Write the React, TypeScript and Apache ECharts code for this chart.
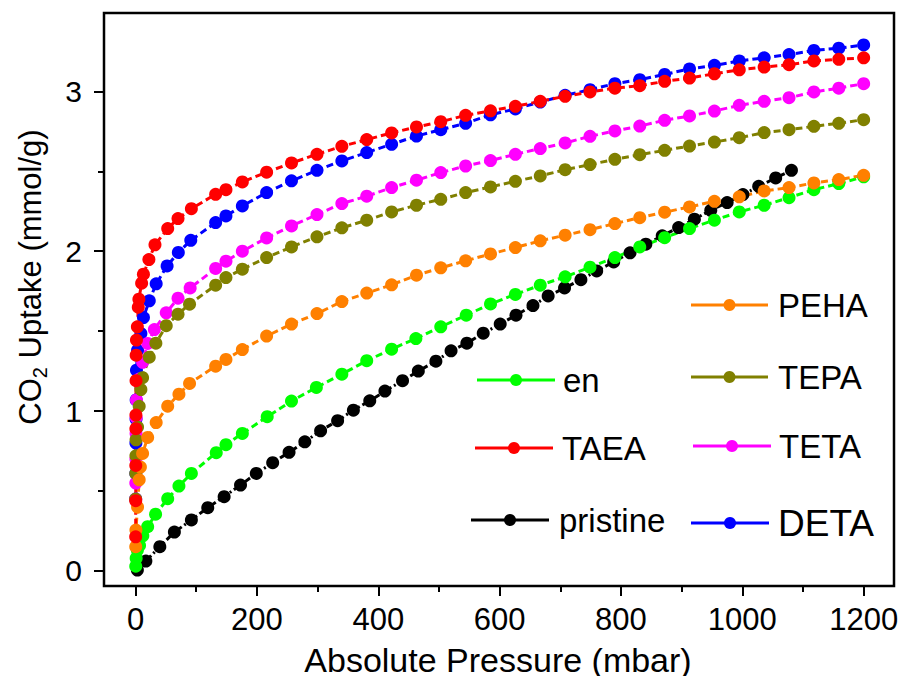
import React, { useEffect, useRef } from "react";
import * as echarts from "echarts";

const FONT = "'Liberation Sans', Arial, sans-serif";

const X_MAJOR_TICKS = [0, 200, 400, 600, 800, 1000, 1200];
const X_MINOR_TICKS = [100, 300, 500, 700, 900, 1100];
const Y_MAJOR_TICKS = [0, 1, 2, 3];
const Y_MINOR_TICKS = [0.5, 1.5, 2.5];

const X_TITLE = "Absolute Pressure (mbar)";

const pristine: number[][] = [
  [3, 0.006], [17, 0.062], [40, 0.152], [64, 0.243], [92, 0.319], [119, 0.396], [146, 0.465],
  [173, 0.5375], [199, 0.61], [226, 0.677], [253, 0.742], [279, 0.808], [305, 0.877], [333, 0.94],
  [359, 1.006], [386, 1.064], [411, 1.125], [440, 1.19], [466, 1.25], [495, 1.3125], [520, 1.377],
  [546, 1.425], [573, 1.487], [601, 1.544], [627, 1.6], [655, 1.66], [680, 1.72], [707, 1.77],
  [734, 1.822], [760, 1.877], [788, 1.933], [815, 1.99], [841, 2.044], [868, 2.096], [895, 2.148],
  [921, 2.2], [948, 2.256], [975, 2.304], [1001, 2.354], [1027, 2.406], [1055, 2.458], [1081, 2.506],
];

const en: number[][] = [
  [0.3, 0.03], [1, 0.08], [3, 0.13], [6.6, 0.16], [12, 0.22], [20, 0.277], [33, 0.355], [53, 0.452],
  [71.5, 0.531], [92, 0.61], [133, 0.74], [149, 0.79], [176, 0.86], [217, 0.965], [257, 1.0625],
  [298, 1.148], [340, 1.231], [381, 1.315], [422, 1.3875], [462, 1.454], [503, 1.527], [545, 1.6],
  [585, 1.67], [626, 1.73], [667, 1.7875], [708, 1.84], [749, 1.9], [790, 1.96], [831, 2.027],
  [872, 2.085], [913, 2.142], [954, 2.194], [995, 2.246], [1036, 2.2875], [1077, 2.335],
  [1118, 2.385], [1159, 2.423], [1200, 2.465],
];

const DETA: number[][] = [
  [0.2, 0.45], [0.4, 0.61], [0.6, 0.8], [0.8, 0.95], [1, 1.07], [1.5, 1.256], [3.3, 1.38],
  [8.8, 1.485], [13, 1.585], [22.6, 1.69], [34, 1.796], [52, 1.908], [70.5, 1.992], [91, 2.068],
  [132, 2.179], [149, 2.221], [176, 2.283], [216, 2.367], [257, 2.44], [299, 2.506], [340, 2.565],
  [381, 2.617], [422, 2.669], [463, 2.72], [503, 2.76], [544, 2.8], [585, 2.853], [626, 2.89],
  [667, 2.933], [708, 2.975], [749, 3.01], [790, 3.048], [831, 3.073], [872, 3.106], [913, 3.14],
  [954, 3.1625], [995, 3.19], [1036, 3.21], [1077, 3.23], [1118, 3.256], [1159, 3.27], [1200, 3.29],
];

const TETA: number[][] = [
  [0.2, 0.45], [0.4, 0.55], [0.6, 0.7], [0.8, 0.86], [1, 0.96], [1.5, 1.07], [6, 1.2], [11.6, 1.305],
  [20, 1.423], [31, 1.51], [50.6, 1.615], [70, 1.706], [90, 1.77], [132, 1.892], [149, 1.9375],
  [176, 2.0], [216, 2.083], [257, 2.158], [299, 2.229], [340, 2.298], [381, 2.344], [422, 2.398],
  [463, 2.444], [503, 2.492], [544, 2.533], [585, 2.567], [626, 2.606], [667, 2.642], [708, 2.677],
  [749, 2.719], [790, 2.752], [831, 2.783], [872, 2.819], [913, 2.846], [954, 2.877], [995, 2.9125],
  [1036, 2.9375], [1077, 2.96], [1118, 2.996], [1159, 3.02], [1200, 3.048],
];

const TEPA: number[][] = [
  [0.2, 0.45], [0.4, 0.61], [0.6, 0.72], [0.8, 0.82], [3.3, 0.9], [6, 1.03], [8.8, 1.135],
  [11.6, 1.209], [22.6, 1.337], [33.5, 1.425], [50.6, 1.534], [70, 1.606], [89, 1.669],
  [132, 1.7875], [149, 1.835], [176, 1.8875], [216, 1.96], [257, 2.027], [299, 2.09], [340, 2.146],
  [381, 2.194], [422, 2.246], [463, 2.2875], [503, 2.325], [544, 2.367], [585, 2.402], [626, 2.4375],
  [667, 2.471], [708, 2.51], [749, 2.542], [790, 2.575], [831, 2.604], [872, 2.631], [913, 2.658],
  [954, 2.683], [995, 2.71], [1036, 2.742], [1077, 2.76], [1118, 2.781], [1159, 2.8], [1200, 2.823],
];

const PEHA: number[][] = [
  [0.3, 0.152], [0.6, 0.256], [3.3, 0.4], [6, 0.57], [8, 0.65], [11.6, 0.735], [20, 0.835],
  [34, 0.928], [53, 1.031], [71.5, 1.106], [89, 1.173], [132, 1.281], [149, 1.323], [176, 1.385],
  [216, 1.469], [257, 1.544], [299, 1.61], [340, 1.685], [381, 1.738], [422, 1.79], [463, 1.85],
  [503, 1.896], [544, 1.94], [585, 1.983], [626, 2.023], [667, 2.065], [708, 2.1], [749, 2.135],
  [790, 2.173], [831, 2.21], [872, 2.244], [913, 2.277], [954, 2.3125], [995, 2.34], [1036, 2.377],
  [1077, 2.398], [1118, 2.427], [1159, 2.448], [1200, 2.475],
];

const TAEA: number[][] = [
  [0.2, 0.214], [0.3, 0.44], [0.4, 0.66], [0.5, 0.89], [0.6, 0.975], [0.8, 1.19], [1, 1.35],
  [1.5, 1.444], [3, 1.527], [4.5, 1.65], [5.5, 1.7], [10, 1.8], [13, 1.856], [22, 1.948], [32, 2.04],
  [53, 2.142], [70, 2.204], [92, 2.266], [132, 2.356], [149, 2.385], [176, 2.433], [216, 2.494],
  [257, 2.552], [299, 2.606], [340, 2.656], [381, 2.698], [422, 2.74], [463, 2.777], [503, 2.81],
  [544, 2.85], [585, 2.878], [626, 2.906], [667, 2.9375], [708, 2.969], [749, 2.996], [790, 3.02],
  [831, 3.035], [872, 3.0625], [913, 3.083], [954, 3.11], [995, 3.135], [1036, 3.152], [1077, 3.167],
  [1118, 3.19], [1159, 3.2], [1200, 3.21],
];

const SERIES_DEFS = [
  { name: "pristine", data: pristine, color: "#000000", dash: [6, 3, 2, 3] },
  { name: "en", data: en, color: "#00FF00", dash: [7, 4] },
  { name: "DETA", data: DETA, color: "#0000FF", dash: [7, 4] },
  { name: "TETA", data: TETA, color: "#FF00FF", dash: [7, 4] },
  { name: "TEPA", data: TEPA, color: "#808000", dash: [7, 4] },
  { name: "PEHA", data: PEHA, color: "#FF8000", dash: [7, 4] },
  { name: "TAEA", data: TAEA, color: "#FF0000", dash: [7, 4] },
];

const LEGEND_ITEMS = [
  { name: "PEHA", color: "#FF8000", x1: 691, x2: 768, y: 305, tx: 778, size: 33 },
  { name: "TEPA", color: "#808000", x1: 691, x2: 768, y: 377, tx: 778, size: 33 },
  { name: "TETA", color: "#FF00FF", x1: 693, x2: 771, y: 446, tx: 779, size: 33 },
  { name: "DETA", color: "#0000FF", x1: 691, x2: 769, y: 523, tx: 778, size: 37 },
  { name: "en", color: "#00FF00", x1: 477, x2: 555, y: 380, tx: 563, size: 33 },
  { name: "TAEA", color: "#FF0000", x1: 475, x2: 553, y: 448, tx: 562, size: 33 },
  { name: "pristine", color: "#000000", x1: 471, x2: 549, y: 520, tx: 559, size: 33 },
];

export default function App() {
  const ref = useRef<HTMLDivElement>(null);
  useEffect(() => {
    if (!ref.current) return;
    const chart = echarts.init(ref.current, undefined, { renderer: "svg" });
    const axisCommon = {
      type: "value" as const,
      axisLine: { show: false, onZero: false },
      splitLine: { show: false },
    };
    const legendGraphics: any[] = [];
    LEGEND_ITEMS.forEach((it) => {
      legendGraphics.push({
        type: "line",
        shape: { x1: it.x1, y1: it.y, x2: it.x2, y2: it.y },
        style: { stroke: it.color, lineWidth: 3 },
        z: 100,
      });
      legendGraphics.push({
        type: "circle",
        shape: { cx: (it.x1 + it.x2) / 2, cy: it.y, r: 6 },
        style: { fill: it.color },
        z: 101,
      });
      legendGraphics.push({
        type: "text",
        x: it.tx,
        y: it.y,
        style: {
          text: it.name,
          fontSize: it.size,
          fontFamily: FONT,
          fill: "#000",
          textAlign: "left",
          verticalAlign: "middle",
        },
        z: 101,
      });
    });
    const plain = (v: number) => String(v);
    chart.setOption({
      animation: false,
      backgroundColor: "#fff",
      grid: {
        left: 104,
        top: 13,
        right: 13,
        bottom: 98,
        show: true,
        borderColor: "#000",
        borderWidth: 2.5,
      },
      xAxis: [
        {
          ...axisCommon,
          min: -52,
          max: 1250,
          axisTick: { show: true, customValues: X_MAJOR_TICKS, length: 10, lineStyle: { color: "#000", width: 2 } },
          axisLabel: {
            customValues: X_MAJOR_TICKS,
            formatter: plain,
            fontSize: 31,
            fontFamily: FONT,
            color: "#000",
            margin: 18,
          },
        },
        {
          ...axisCommon,
          min: -52,
          max: 1250,
          position: "bottom",
          axisTick: { show: true, customValues: X_MINOR_TICKS, length: 6, lineStyle: { color: "#000", width: 2 } },
          axisLabel: { show: false },
        },
      ],
      yAxis: [
        {
          ...axisCommon,
          min: -0.094,
          max: 3.49,
          axisTick: { show: true, customValues: Y_MAJOR_TICKS, length: 10, lineStyle: { color: "#000", width: 2 } },
          axisLabel: {
            customValues: Y_MAJOR_TICKS,
            formatter: plain,
            fontSize: 30,
            fontFamily: FONT,
            color: "#000",
            margin: 22,
          },
        },
        {
          ...axisCommon,
          min: -0.094,
          max: 3.49,
          position: "left",
          axisTick: { show: true, customValues: Y_MINOR_TICKS, length: 6, lineStyle: { color: "#000", width: 2 } },
          axisLabel: { show: false },
        },
      ],
      series: SERIES_DEFS.map((s) => ({
        name: s.name,
        type: "line",
        data: s.data,
        xAxisIndex: 0,
        yAxisIndex: 0,
        symbol: "circle",
        symbolSize: 13,
        showAllSymbol: true,
        itemStyle: { color: s.color },
        lineStyle: { color: s.color, width: 3, type: s.dash },
        clip: false,
      })),
      graphic: [
        {
          type: "text",
          x: 498,
          y: 660,
          style: {
            text: X_TITLE,
            fontSize: 34,
            fontFamily: FONT,
            fill: "#000",
            textAlign: "center",
            verticalAlign: "middle",
          },
        },
        {
          type: "text",
          x: 30,
          y: 277,
          rotation: Math.PI / 2,
          style: {
            text: "{a|CO}{s|2}{a| Uptake (mmol/g)}",
            fontFamily: FONT,
            fill: "#000",
            textAlign: "center",
            verticalAlign: "middle",
            rich: {
              a: { fontSize: 31, fontFamily: FONT, lineHeight: 40, fill: "#000" },
              s: { fontSize: 20, fontFamily: FONT, lineHeight: 20, verticalAlign: "bottom", fill: "#000" },
            },
          },
        },
        ...legendGraphics,
      ],
    });
    return () => chart.dispose();
  }, []);
  return <div ref={ref} style={{ width: 907, height: 684, margin: -8 }} />;
}
